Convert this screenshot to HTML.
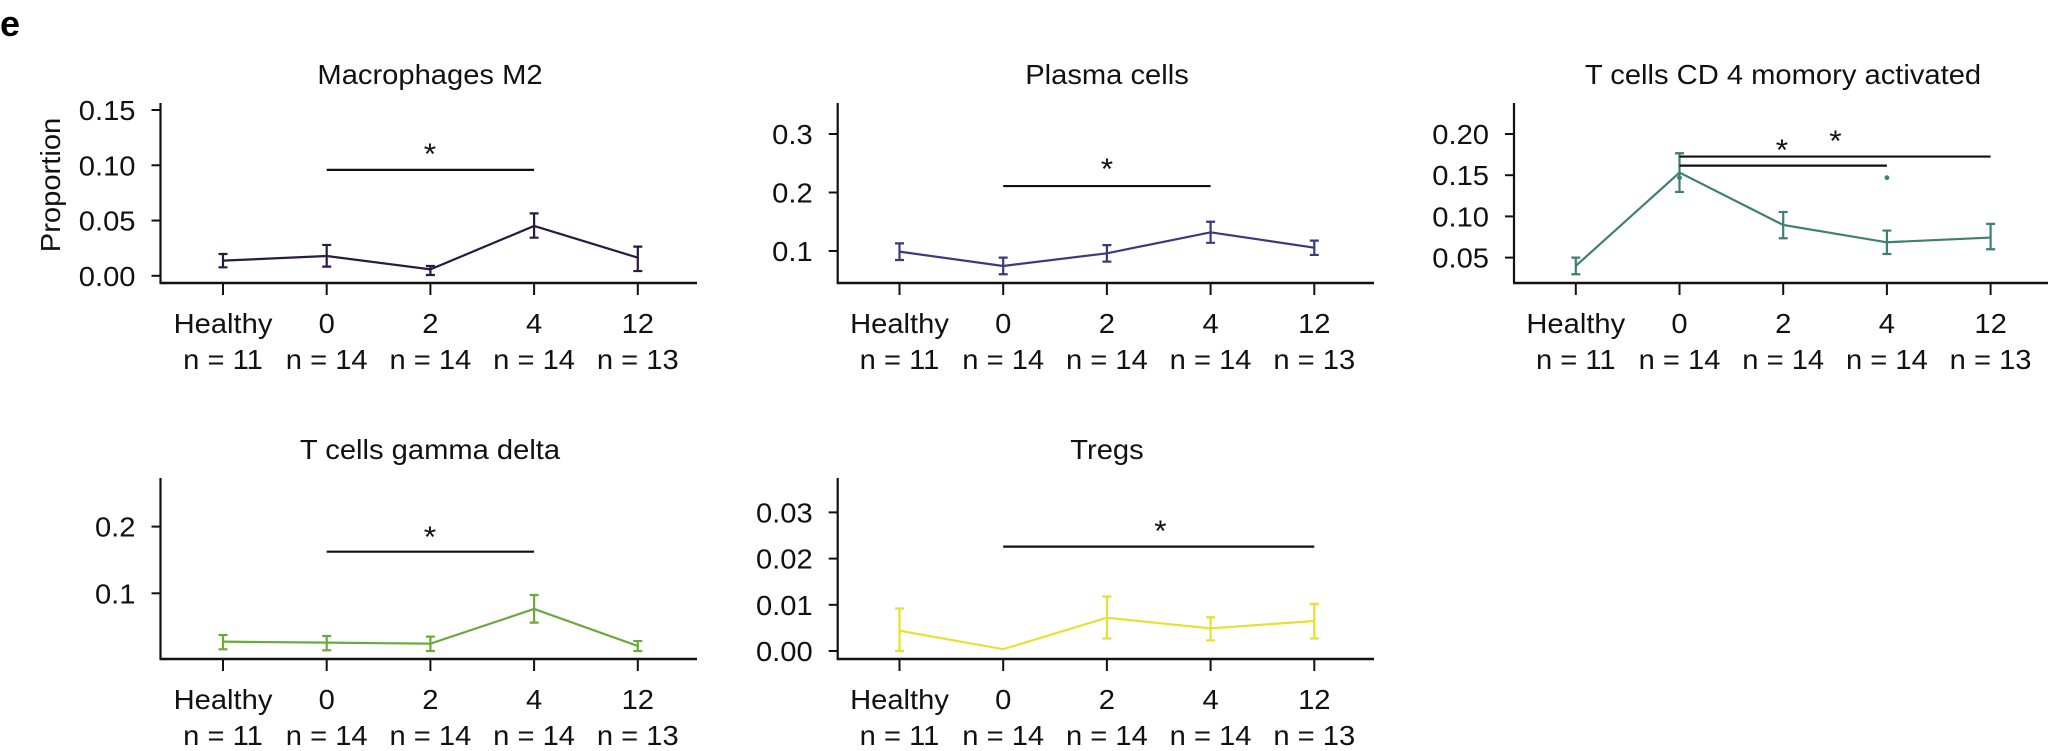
<!DOCTYPE html>
<html><head><meta charset="utf-8"><style>
html,body{margin:0;padding:0;background:#fff;overflow:hidden;}
svg{display:block;font-family:"Liberation Sans",Arial,sans-serif;}
</style></head><body>
<svg id="fig" width="2048" height="751" viewBox="0 0 2048 751">
<text x="0" y="36" font-size="36" font-weight="bold" fill="#000">e</text>
</svg>
<script>
const categories = ["Healthy","0","2","4","12"];
const nLabels = ["n = 11","n = 14","n = 14","n = 14","n = 13"];

const m2Mean = [0.0137,0.0179,0.0058,0.0451,0.0164];
const m2Hi   = [0.0197,0.0279,0.0089,0.0565,0.0264];
const m2Lo   = [0.0077,0.0083,0.0007,0.0345,0.0043];
const m2Ticks = [0,0.05,0.10,0.15];
const m2TickLabels = ["0.00","0.05","0.10","0.15"];

const plMean = [0.0989,0.0744,0.0961,0.1319,0.1057];
const plHi   = [0.113,0.0887,0.110,0.150,0.1177];
const plLo   = [0.0846,0.0602,0.0818,0.114,0.0933];
const plTicks = [0.1,0.2,0.3];
const plTickLabels = ["0.1","0.2","0.3"];

const cd4Mean = [0.0399,0.1532,0.0896,0.0686,0.0743];
const cd4Hi   = [0.050,0.1766,0.1054,0.0828,0.0909];
const cd4Lo   = [0.0298,0.1297,0.0735,0.0544,0.0601];
const cd4Outliers = [[1,0.147],[3,0.147]];
const cd4Ticks = [0.05,0.10,0.15,0.20];
const cd4TickLabels = ["0.05","0.10","0.15","0.20"];

const gdMean = [0.0275,0.026,0.0245,0.0765,0.021];
const gdHi   = [0.0375,0.036,0.035,0.0975,0.0284];
const gdLo   = [0.016,0.0145,0.0135,0.056,0.0135];
const gdTicks = [0.1,0.2];
const gdTickLabels = ["0.1","0.2"];

const trMean = [0.0044,0.0004,0.0072,0.0049,0.0065];
const trHi   = [0.0092,null,0.0118,0.0073,0.0102];
const trLo   = [0.0,null,0.0027,0.0023,0.0027];
const trTicks = [0,0.01,0.02,0.03];
const trTickLabels = ["0.00","0.01","0.02","0.03"];

const svg = document.getElementById('fig');
const NS = 'http://www.w3.org/2000/svg';
const FS = 27.5, SX = 1.06;
function el(tag, attrs, parent){const e=document.createElementNS(NS,tag);for(const k in attrs)e.setAttribute(k,attrs[k]);(parent||svg).appendChild(e);return e;}
function txt(parent,x,y,s,anchor,size){const t=el('text',{transform:`translate(${x},${y}) scale(${SX},1)`,'font-size':size||FS,'text-anchor':anchor||'middle',fill:'#111'},parent);t.textContent=s;return t;}

function panel(cfg){
  const g = el('g',{});
  
  
  const {axisX,top,bottom,right,cat0,step,v0,y0,v1,y1,color}=cfg;
  const ys = v => y0 + (v - v0)*(y1 - y0)/(v1 - v0);
  const xs = i => cat0 + i*step;
  const t = txt(g,cfg.titleX,cfg.titleY,cfg.title);
  
  
  const ya = el('line',{x1:axisX,y1:top,x2:axisX,y2:bottom,stroke:'#111','stroke-width':2.2},g);
  
  
  const xa = el('line',{x1:axisX-1,y1:bottom,x2:right,y2:bottom,stroke:'#111','stroke-width':2.5},g);
  
  
  cfg.ticks.forEach((v,i)=>{
    const y=ys(v);
    el('line',{x1:axisX-9,y1:y,x2:axisX,y2:y,stroke:'#111','stroke-width':2},g);
    const l=txt(g,axisX-25,y+10,cfg.tickLabels[i],'end');
    
    
  });
  categories.forEach((c,i)=>{
    const x=xs(i);
    el('line',{x1:x,y1:bottom,x2:x,y2:bottom+12,stroke:'#111','stroke-width':2},g);
    const a=txt(g,x,bottom+50,c);
    
    
    const b=txt(g,x,bottom+86,nLabels[i]);
    
    
  });
  const pts = cfg.mean.map((v,i)=>xs(i)+','+ys(v)).join(' ');
  const pl = el('polyline',{points:pts,fill:'none',stroke:color,'stroke-width':2.2},g);
  
  
  cfg.mean.forEach((v,i)=>{
    if(cfg.hi[i]==null) return;
    const x=xs(i), yh=ys(cfg.hi[i]), yl=ys(cfg.lo[i]);
    const eb=el('path',{d:`M${x},${yh}V${yl}M${x-4.5},${yh}H${x+4.5}M${x-4.5},${yl}H${x+4.5}`,stroke:color,'stroke-width':2.2,fill:'none'},g);
    
    
  });
  (cfg.outliers||[]).forEach(o=>{
    const d=el('circle',{cx:xs(o[0]),cy:ys(o[1]),r:2.4,fill:color},g);
    
    
  });
  cfg.brackets.forEach(b=>{
    const y=ys(b.v);
    const ln=el('line',{x1:xs(b.from),y1:y,x2:xs(b.to),y2:y,stroke:'#111','stroke-width':2.2},g);
    
    
    const s=txt(g,b.sx,b.sy+2,'*','middle',30);
    
    
  });
  if(cfg.ylabel){
    const yl=el('text',{transform:`translate(60,185) rotate(-90) scale(${SX},1)`,'font-size':FS,'text-anchor':'middle',fill:'#111'},g);
    yl.textContent=cfg.ylabel;
    
    
  }
}

panel({name:'panel-macrophages-m2',title:'Macrophages M2',titleX:430,titleY:84,ylabel:'Proportion',
  axisX:160.5,top:103,bottom:283,right:697,cat0:223,step:103.7,v0:0,y0:275.8,v1:0.15,y1:110,color:'#2b1a3d',
  ticks:m2Ticks,tickLabels:m2TickLabels,mean:m2Mean,hi:m2Hi,lo:m2Lo,
  brackets:[{from:1,to:3,v:0.0958,sx:430,sy:162}]});
panel({name:'panel-plasma-cells',title:'Plasma cells',titleX:1107,titleY:84,
  axisX:837.7,top:103,bottom:283,right:1374,cat0:899.5,step:103.7,v0:0.1,y0:251,v1:0.3,y1:134,color:'#3b3a7a',
  ticks:plTicks,tickLabels:plTickLabels,mean:plMean,hi:plHi,lo:plLo,
  brackets:[{from:1,to:3,v:0.211,sx:1107,sy:177}]});
panel({name:'panel-t-cells-cd4-memory-activated',title:'T cells CD 4 momory activated',titleX:1783,titleY:84,
  axisX:1514,top:103,bottom:283,right:2048,cat0:1575.8,step:103.7,v0:0.05,y0:257.6,v1:0.20,y1:134,color:'#3f7f73',
  ticks:cd4Ticks,tickLabels:cd4TickLabels,mean:cd4Mean,hi:cd4Hi,lo:cd4Lo,outliers:cd4Outliers,
  brackets:[{from:1,to:3,v:0.1616,sx:1782,sy:158},{from:1,to:4,v:0.1726,sx:1835.5,sy:149}]});
panel({name:'panel-t-cells-gamma-delta',title:'T cells gamma delta',titleX:430,titleY:459,
  axisX:160.5,top:478,bottom:659,right:697,cat0:223,step:103.7,v0:0.1,y0:593.3,v1:0.2,y1:526.6,color:'#6aaa3c',
  ticks:gdTicks,tickLabels:gdTickLabels,mean:gdMean,hi:gdHi,lo:gdLo,
  brackets:[{from:1,to:3,v:0.1624,sx:430,sy:545}]});
panel({name:'panel-tregs',title:'Tregs',titleX:1107,titleY:459,
  axisX:837.7,top:478,bottom:659,right:1374,cat0:899.5,step:103.7,v0:0,y0:651,v1:0.03,y1:512.4,color:'#e8e030',
  ticks:trTicks,tickLabels:trTickLabels,mean:trMean,hi:trHi,lo:trLo,
  brackets:[{from:1,to:4,v:0.0226,sx:1160.5,sy:539}]});
</script>
</body></html>
